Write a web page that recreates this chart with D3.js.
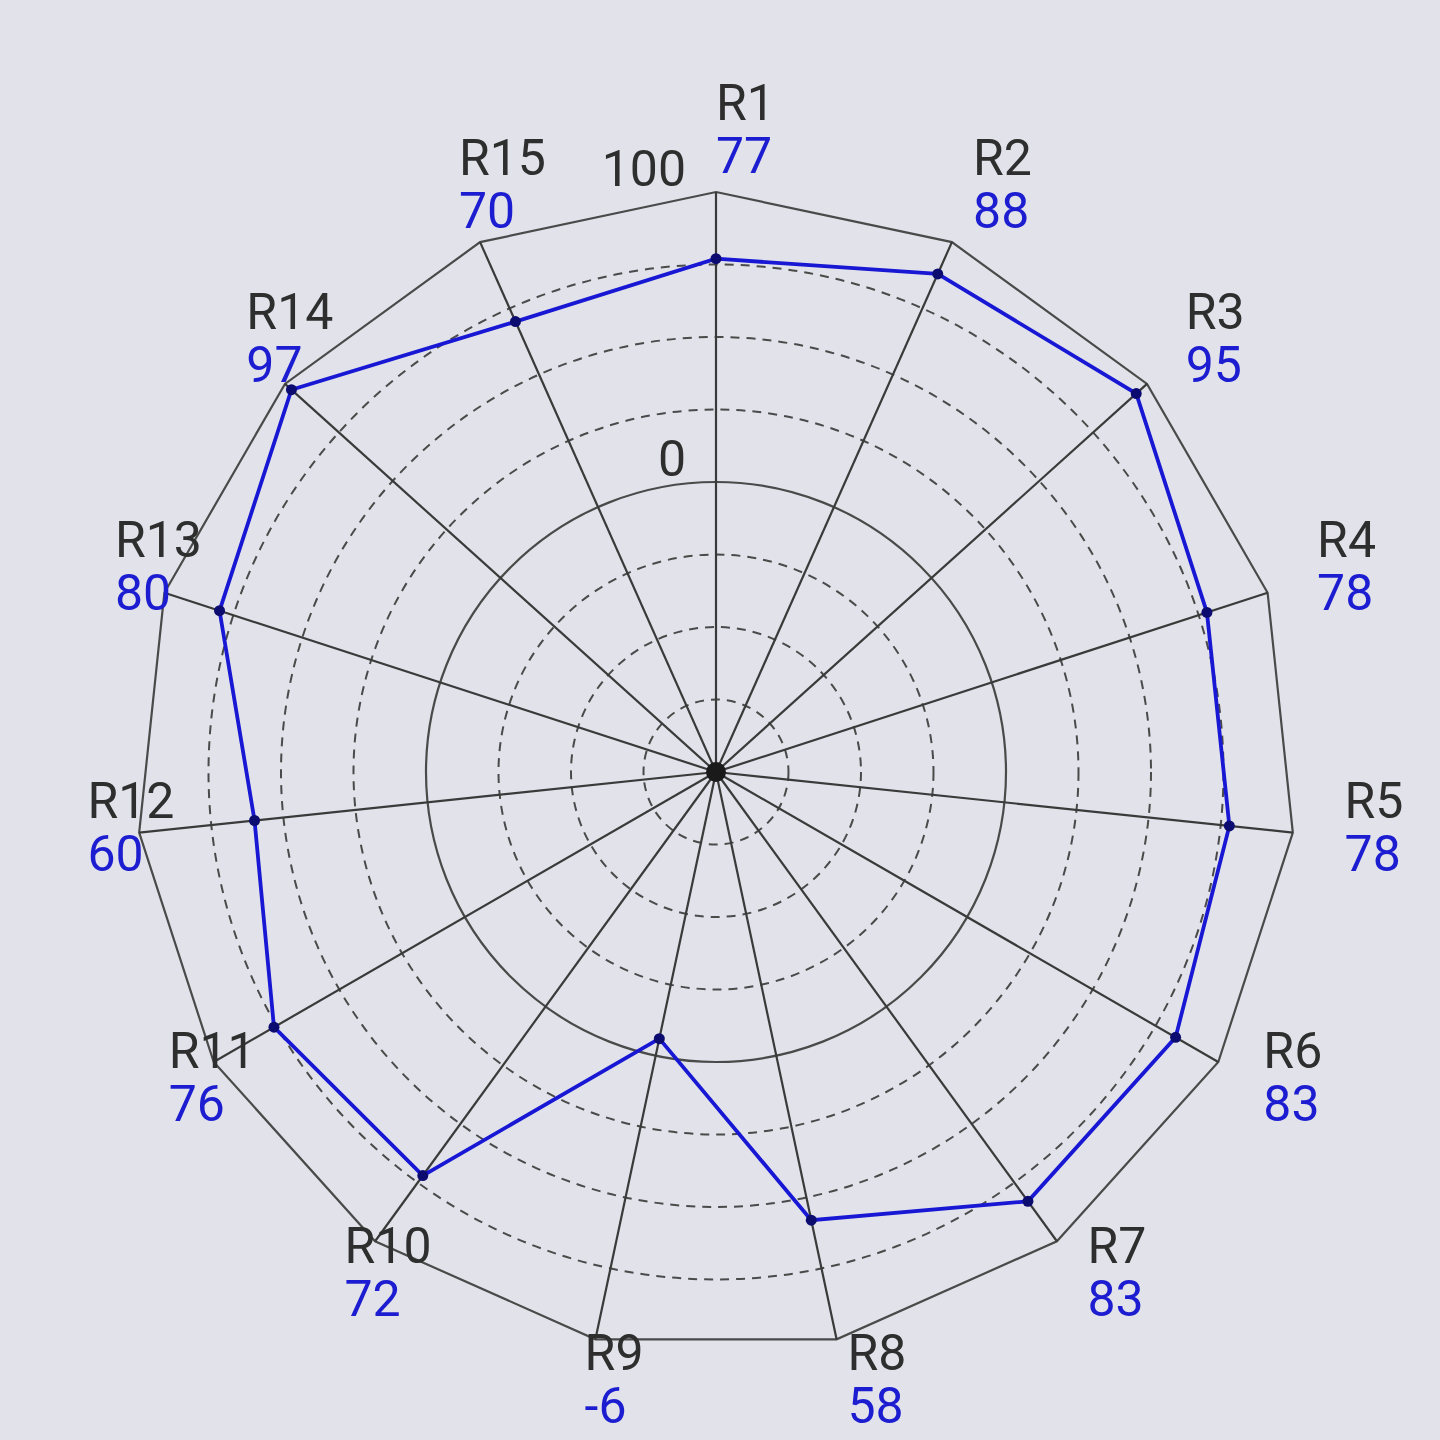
<!DOCTYPE html>
<html><head><meta charset="utf-8">
<script src="https://cdn.jsdelivr.net/npm/d3@7"></script>
<style>html,body{margin:0;padding:0;background:#e2e3ea;}svg{display:block;}</style>
</head><body>
<svg id="chart" width="1440" height="1440"></svg>
<script>
const categories = ["R1","R2","R3","R4","R5","R6","R7","R8","R9","R10","R11","R12","R13","R14","R15"];
const values = [77,88,95,78,78,83,83,58,-6,72,76,60,80,97,70];
const ringValues = [-75,-50,-25,0,25,50,75];
const tickLabels = [{v:0,t:"0"},{v:100,t:"100"}];

const W=1440,H=1440,cx=716,cy=772,R=580;
const svg=d3.select("#chart");
svg.append("rect").attr("width",W).attr("height",H).attr("fill","#e2e3ea");
const g=svg.append("g").attr("transform",`translate(${cx},${cy})`);
const r=d3.scaleLinear().domain([-100,100]).range([0,R]);
const ang=d3.scaleLinear().domain([0,categories.length]).range([0,2*Math.PI]);
const px=(i,rad)=>rad*Math.sin(ang(i));
const py=(i,rad)=>-rad*Math.cos(ang(i));

// rings
g.selectAll("circle.ring").data(ringValues).join("circle").attr("class","ring")
 .attr("r",d=>r(d)).attr("fill","none").attr("stroke","#4a4a4a")
 .attr("stroke-width",d=>d===0?2.2:2).attr("stroke-dasharray",d=>d===0?null:"9,7");
// outer polygon
g.append("path").attr("d",d3.line()(categories.map((c,i)=>[px(i,r(100)),py(i,r(100))]))+"Z")
 .attr("fill","none").attr("stroke","#4a4a4a").attr("stroke-width",2.2);
// spokes
g.selectAll("line.spoke").data(categories).join("line").attr("class","spoke")
 .attr("x1",0).attr("y1",0).attr("x2",(d,i)=>px(i,r(100))).attr("y2",(d,i)=>py(i,r(100)))
 .attr("stroke","#3a3a3a").attr("stroke-width",2.2);
// tick labels
g.selectAll("text.tick").data(tickLabels).join("text").attr("class","tick")
 .attr("x",-30).attr("y",d=>-r(d.v)-6).attr("text-anchor","end")
 .attr("font-family","Roboto, sans-serif").attr("font-size",50).attr("fill","#2e2e2e").text(d=>d.t);
// data line
const pts=values.map((v,i)=>[px(i,r(v)),py(i,r(v))]);
g.append("path").attr("d",d3.line()(pts)+"Z").attr("fill","none").attr("stroke","#1818d4").attr("stroke-width",3.8);
g.selectAll("circle.pt").data(pts).join("circle").attr("class","pt")
 .attr("cx",d=>d[0]).attr("cy",d=>d[1]).attr("r",5.5).attr("fill","#0c0c70");
g.append("circle").attr("r",10).attr("fill","#1a1a1a");
// category labels
const LR=R+52;
const lab=g.selectAll("g.lab").data(categories).join("g").attr("class","lab")
 .attr("transform",(d,i)=>`translate(${px(i,LR)},${py(i,LR)})`);
lab.append("text").attr("x",0).attr("y",-20).attr("font-family","Roboto, sans-serif")
 .attr("font-size",50).attr("fill","#2e2e2e").text(d=>d);
lab.append("text").attr("x",0).attr("y",33).attr("font-family","Roboto, sans-serif")
 .attr("font-size",50).attr("fill","#1c1cd0").text((d,i)=>values[i]);
</script>
</body></html>
